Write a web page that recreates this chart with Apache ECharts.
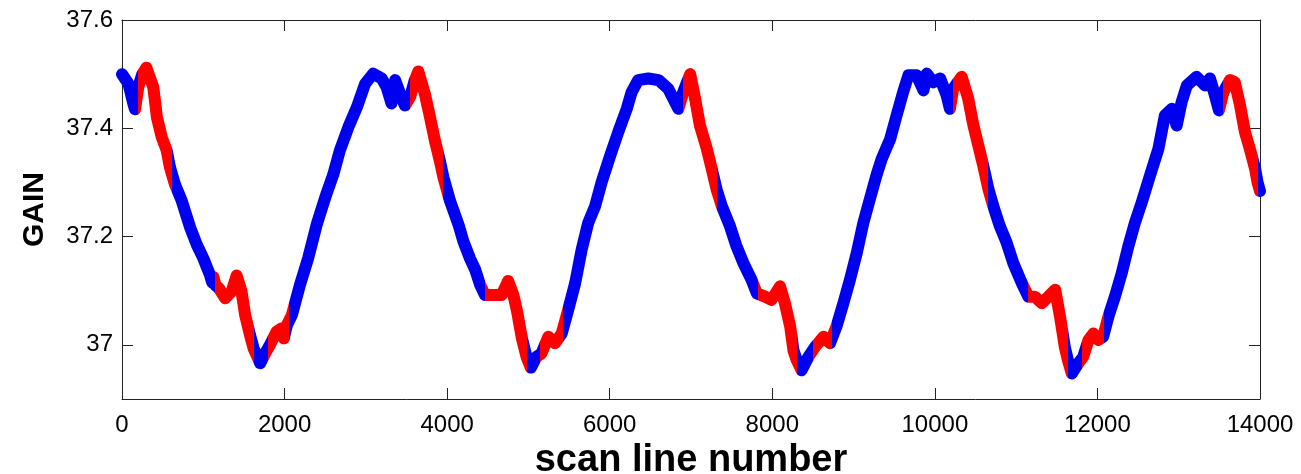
<!DOCTYPE html>
<html>
<head>
<meta charset="utf-8">
<script src="https://cdn.jsdelivr.net/npm/echarts@6/dist/echarts.min.js"></script>
<style>
html,body{margin:0;padding:0;background:#fff;}
#chart{width:1301px;height:474px;}
</style>
</head>
<body>
<div id="chart"></div>
<script>
// ---- data ----
const scanLine = [
  0, 80, 140, 160, 200, 250, 300, 385, 430, 490, 550, 590, 650, 735, 840, 920, 1000, 1080, 1110, 1125,
  1150, 1190, 1270, 1350, 1410, 1470, 1515, 1575, 1620, 1700, 1760, 1820, 1900, 1960, 1990, 2030,
  2090, 2190, 2290, 2395, 2500, 2600, 2680, 2785, 2890, 2990, 3090, 3195, 3255, 3315, 3360, 3420,
  3480, 3545, 3600, 3645, 3725, 3790, 3850, 3910, 3955, 4035, 4140, 4200, 4280, 4345, 4405, 4465,
  4570, 4670, 4750, 4815, 4860, 4920, 4978, 5030, 5100, 5160, 5245, 5325, 5410, 5490, 5575, 5655,
  5735, 5820, 5900, 6005, 6105, 6210, 6270, 6350, 6475, 6600, 6720, 6845, 6905, 6990, 7050, 7110,
  7195, 7255, 7315, 7380, 7480, 7560, 7645, 7745, 7810, 7910, 7990, 8095, 8155, 8220, 8260, 8300,
  8360, 8445, 8525, 8630, 8710, 8790, 8875, 8955, 9040, 9120, 9200, 9285, 9345, 9450, 9530, 9610,
  9675, 9775, 9860, 9900, 9980, 10065, 10145, 10185, 10225, 10330, 10410, 10475, 10535, 10595, 10660,
  10720, 10800, 10885, 10965, 11070, 11150, 11230, 11315, 11395, 11480, 11540, 11600, 11640, 11685,
  11765, 11825, 11890, 11950, 12010, 12070, 12135, 12215, 12300, 12380, 12460, 12545, 12645, 12750,
  12830, 12915, 12975, 13035, 13100, 13220, 13325, 13385, 13445, 13495, 13550, 13630, 13690, 13755,
  13815, 13875, 13940, 13970, 14000
];
const gain = [
  37.500, 37.482, 37.445, 37.435, 37.476, 37.500, 37.512, 37.476, 37.420, 37.383, 37.359, 37.328, 37.297, 37.266, 37.216, 37.185, 37.160, 37.130, 37.115, 37.125,
  37.110, 37.105, 37.086, 37.099, 37.128, 37.099, 37.055, 37.018, 36.993, 36.966, 36.984, 37.000, 37.024, 37.030, 37.012, 37.037,
  37.055, 37.111, 37.160, 37.222, 37.272, 37.315, 37.359, 37.402, 37.439, 37.482, 37.501, 37.492, 37.476, 37.446, 37.489, 37.464,
  37.442, 37.458, 37.488, 37.505, 37.464, 37.420, 37.377, 37.340, 37.309, 37.266, 37.222, 37.191, 37.160, 37.139, 37.111, 37.092,
  37.092, 37.092, 37.118, 37.092, 37.062, 37.012, 36.977, 36.958, 36.978, 36.984, 37.015, 37.003, 37.021, 37.065, 37.114, 37.176,
  37.225, 37.256, 37.300, 37.349, 37.393, 37.436, 37.467, 37.489, 37.492, 37.489, 37.473, 37.436, 37.467, 37.500, 37.455, 37.405,
  37.362, 37.325, 37.287, 37.256, 37.219, 37.182, 37.151, 37.120, 37.095, 37.089, 37.083, 37.108, 37.077, 37.034, 36.990, 36.972,
  36.953, 36.978, 36.996, 37.015, 37.003, 37.034, 37.077, 37.120, 37.170, 37.225, 37.269, 37.315, 37.343, 37.380, 37.424, 37.467,
  37.498, 37.498, 37.470, 37.501, 37.485, 37.492, 37.461, 37.436, 37.473, 37.495, 37.455, 37.405, 37.368, 37.331, 37.287,
  37.256, 37.219, 37.188, 37.151, 37.114, 37.089, 37.089, 37.077, 37.089, 37.102, 37.052, 36.995, 36.970, 36.947,
  36.966, 36.978, 37.009, 37.021, 37.009, 37.015, 37.052, 37.089, 37.133, 37.182, 37.225, 37.263, 37.312, 37.362,
  37.424, 37.436, 37.405, 37.448, 37.479, 37.495, 37.479, 37.492, 37.461, 37.433, 37.467, 37.489, 37.485, 37.442,
  37.393, 37.362, 37.325, 37.300, 37.284
];
// scan-line ranges drawn in red (the rest is blue)
const redRanges = [
  [200, 620], [1150, 1620], [1800, 2050], [3545, 3955], [4470, 4978], [5140, 5420],
  [6900, 7315], [7820, 8300], [8500, 8740], [10220, 10655], [11150, 11640], [11810, 12085], [13540, 13970]
];
const yTickValues = [37, 37.2, 37.4, 37.6];
const xTickValues = [0, 2000, 4000, 6000, 8000, 10000, 12000, 14000];
const xTitle = 'scan line number';
const yTitle = 'GAIN';

// ---- chart ----
const FONT = '"Liberation Sans", Arial, Helvetica, sans-serif';
const BLUE = '#0000f0';
const RED = '#ff0000';
const AXIS = '#222';

const points = scanLine.map((x, i) => [x, gain[i]]);

const chart = echarts.init(document.getElementById('chart'), null, {renderer: 'canvas'});

const xBase = {
  type: 'value', min: 0, max: 14000, interval: 2000,
  axisLine: {show: true, onZero: false, lineStyle: {color: AXIS, width: 1}},
  axisTick: {show: true, inside: true, length: 11, lineStyle: {color: AXIS, width: 1}},
  splitLine: {show: false}
};
const yBase = {
  type: 'value', min: 36.9, max: 37.6,
  axisLine: {show: true, onZero: false, lineStyle: {color: AXIS, width: 1}},
  axisTick: {show: true, inside: true, length: 11, customValues: yTickValues, lineStyle: {color: AXIS, width: 1}},
  splitLine: {show: false}
};

chart.setOption({
  animation: false,
  backgroundColor: '#fff',
  grid: {left: 122, right: 41, top: 20, bottom: 75, containLabel: false, outerBoundsMode: 'none'},
  xAxis: [
    Object.assign({}, xBase, {
      position: 'bottom',
      axisLabel: {show: true, color: '#000', fontFamily: FONT, fontSize: 24, margin: 14,
        customValues: xTickValues, formatter: v => String(v)},
      name: xTitle, nameLocation: 'middle', nameGap: 38,
      nameTextStyle: {color: '#000', fontFamily: FONT, fontSize: 38, fontWeight: 'bold'}
    }),
    Object.assign({}, xBase, {position: 'top', axisLabel: {show: false}})
  ],
  yAxis: [
    Object.assign({}, yBase, {
      position: 'left',
      axisLabel: {show: true, color: '#000', fontFamily: FONT, fontSize: 24, margin: 9,
        customValues: yTickValues,
        formatter: v => (Math.abs(v - Math.round(v)) < 1e-9 ? String(Math.round(v)) : v.toFixed(1))},
      name: yTitle, nameLocation: 'middle', nameGap: 72, nameRotate: 90,
      nameTextStyle: {color: '#000', fontFamily: FONT, fontSize: 30, fontWeight: 'bold'}
    }),
    Object.assign({}, yBase, {position: 'right', axisLabel: {show: false}})
  ],
  visualMap: {
    type: 'piecewise', show: false, dimension: 0, seriesIndex: 0,
    pieces: redRanges.map(r => ({gte: r[0], lt: r[1], color: RED})),
    outOfRange: {color: BLUE}
  },
  series: [{
    type: 'line',
    data: points,
    xAxisIndex: 0, yAxisIndex: 0,
    showSymbol: false, symbol: 'none',
    smooth: false,
    lineStyle: {width: 12, cap: 'round', join: 'round'}
  }]
});
</script>
</body>
</html>
